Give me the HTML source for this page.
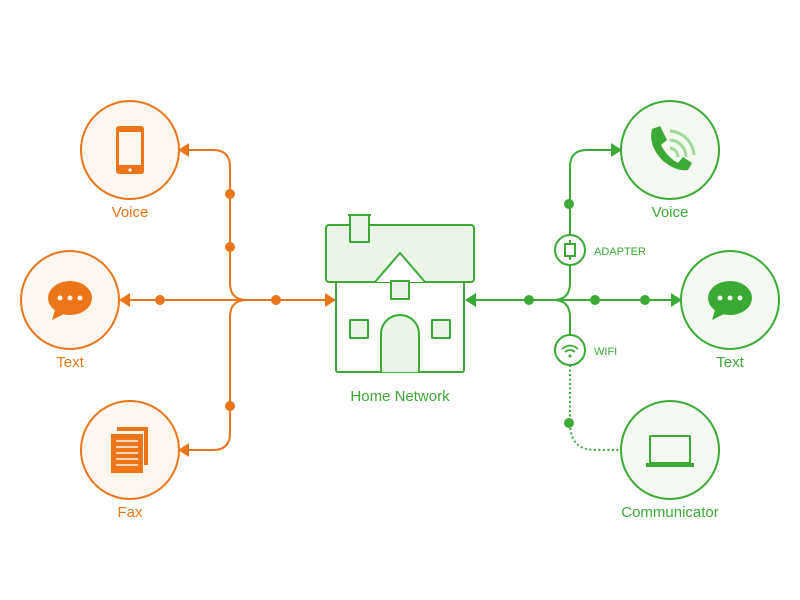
<!DOCTYPE html>
<html><head><meta charset="utf-8"><style>
html,body{margin:0;padding:0;background:#fff;width:800px;height:600px;overflow:hidden}
text{font-family:"Liberation Sans","DejaVu Sans",sans-serif}
</style></head><body>
<svg width="800" height="600" viewBox="0 0 800 600" xmlns="http://www.w3.org/2000/svg">
<g fill="none" stroke="#ec7519" stroke-width="2">
  <path d="M130 300 H336"/>
  <path d="M188 150 H213 Q230 150 230 167 V283 Q230 300 247 300"/>
  <path d="M188 450 H213 Q230 450 230 433 V317 Q230 300 247 300"/>
</g>
<g fill="#ec7519">
  <polygon points="119,300 130,293 130,307"/>
  <polygon points="336,300 325,293 325,307"/>
  <polygon points="178,150 189,143 189,157"/>
  <polygon points="178,450 189,443 189,457"/>
  <circle cx="160" cy="300" r="5"/><circle cx="276" cy="300" r="5"/>
  <circle cx="230" cy="194" r="5"/><circle cx="230" cy="247" r="5"/><circle cx="230" cy="406" r="5"/>
</g>
<g fill="#fdf6ef" stroke="#ec7519" stroke-width="2">
  <circle cx="130" cy="150" r="49"/><circle cx="70" cy="300" r="49"/><circle cx="130" cy="450" r="49"/>
</g>
<rect x="116" y="126" width="28" height="48" rx="3" fill="#ec7519"/>
<rect x="119" y="132" width="22" height="33" fill="#fdf6ef"/>
<circle cx="130" cy="170" r="1.6" fill="#fdf6ef"/>
<ellipse cx="70" cy="298" rx="22" ry="17" fill="#ec7519"/>
<polygon points="55,310 52,320 66,313" fill="#ec7519"/>
<g fill="#fdf6ef"><circle cx="60" cy="298" r="2.5"/><circle cx="70" cy="298" r="2.5"/><circle cx="80" cy="298" r="2.5"/></g>
<path d="M117 427 H148 V465 H144 V431 H117 Z" fill="#ec7519"/>
<rect x="111" y="434" width="32" height="39" fill="#ec7519"/>
<g stroke="#fdf6ef" stroke-width="1.6"><path d="M116 441H138M116 447H138M116 453H138M116 459H138M116 465H138"/></g>
<g font-size="15" fill="#ec7519" text-anchor="middle">
  <text x="130" y="217">Voice</text><text x="70" y="367">Text</text><text x="130" y="517">Fax</text>
</g>
<g fill="none" stroke="#3aaa35" stroke-width="2">
  <path d="M476 300 H672"/>
  <path d="M612 150 H587 Q570 150 570 167 V235"/>
  <path d="M570 265 V283 Q570 300 553 300"/>
  <path d="M553 300 Q570 300 570 317 V335"/>
  <path d="M570 365 V423 Q570 450 595 450 H620" stroke-dasharray="2 2.5"/>
</g>
<g fill="#3aaa35">
  <polygon points="465,300 476,293 476,307"/>
  <polygon points="682,300 671,293 671,307"/>
  <polygon points="622,150 611,143 611,157"/>
  <circle cx="529" cy="300" r="5"/><circle cx="595" cy="300" r="5"/><circle cx="645" cy="300" r="5"/>
  <circle cx="569" cy="204" r="5"/><circle cx="569" cy="423" r="5"/>
</g>
<g fill="#fff" stroke="#3aaa35" stroke-width="2">
  <circle cx="570" cy="250" r="15"/><circle cx="570" cy="350" r="15"/>
</g>
<rect x="565" y="244" width="10" height="12" fill="none" stroke="#3aaa35" stroke-width="2"/>
<path d="M570 240V244M570 256V260" stroke="#3aaa35" stroke-width="2"/>
<g fill="none" stroke="#3aaa35" stroke-width="1.8">
  <path d="M562 349 Q570 342 578 349"/><path d="M565 352 Q570 348 575 352"/>
</g>
<circle cx="570" cy="356" r="1.5" fill="#3aaa35"/>
<g font-size="11" fill="#3aaa35"><text x="594" y="255">ADAPTER</text><text x="594" y="355">WIFI</text></g>
<g fill="#f3f9f1" stroke="#3aaa35" stroke-width="2">
  <circle cx="670" cy="150" r="49"/><circle cx="730" cy="300" r="49"/><circle cx="670" cy="450" r="49"/>
</g>
<path d="M652 129 L660 126 L667 140 L661 145 Q667 157 678 163 L683 157 L692 163 L688 170 Q676 172 662 160 Q648 145 652 129 Z" fill="#3aaa35"/>
<g fill="none" stroke="#9fd89a" stroke-width="3">
  <path d="M670 148 A9 9 0 0 1 678 157"/><path d="M670 140 A17 17 0 0 1 686 157"/><path d="M670 131 A26 26 0 0 1 694 155"/>
</g>
<ellipse cx="730" cy="298" rx="22" ry="17" fill="#3aaa35"/>
<polygon points="715,310 712,320 726,313" fill="#3aaa35"/>
<g fill="#f3f9f1"><circle cx="720" cy="298" r="2.5"/><circle cx="730" cy="298" r="2.5"/><circle cx="740" cy="298" r="2.5"/></g>
<rect x="650" y="436" width="40" height="27" rx="1" fill="none" stroke="#3aaa35" stroke-width="2"/>
<rect x="646" y="463" width="48" height="4" fill="#3aaa35"/>
<g font-size="15" fill="#3aaa35" text-anchor="middle">
  <text x="670" y="217">Voice</text><text x="730" y="367">Text</text><text x="670" y="517">Communicator</text>
  <text x="400" y="401">Home Network</text>
</g>
<g stroke="#3aaa35" stroke-width="2" stroke-linejoin="round">
  <rect x="336" y="270" width="128" height="102" rx="2" fill="#fff"/>
  <rect x="326" y="225" width="148" height="57" rx="3" fill="#eaf5e8"/>
  <path d="M375 282 L400 253 L425 282" fill="#fff"/>
  <rect x="350" y="215" width="19" height="27" fill="#eaf5e8"/>
  <path d="M348 215 H371" />
  <rect x="391" y="281" width="18" height="18" fill="#eaf5e8"/>
  <rect x="350" y="320" width="18" height="18" fill="#eaf5e8"/>
  <rect x="432" y="320" width="18" height="18" fill="#eaf5e8"/>
  <path d="M381 372 V334 A19 19 0 0 1 419 334 V372" fill="#eaf5e8"/>
</g>
<rect x="337" y="283" width="126" height="0" fill="none"/>
</svg>
</body></html>
